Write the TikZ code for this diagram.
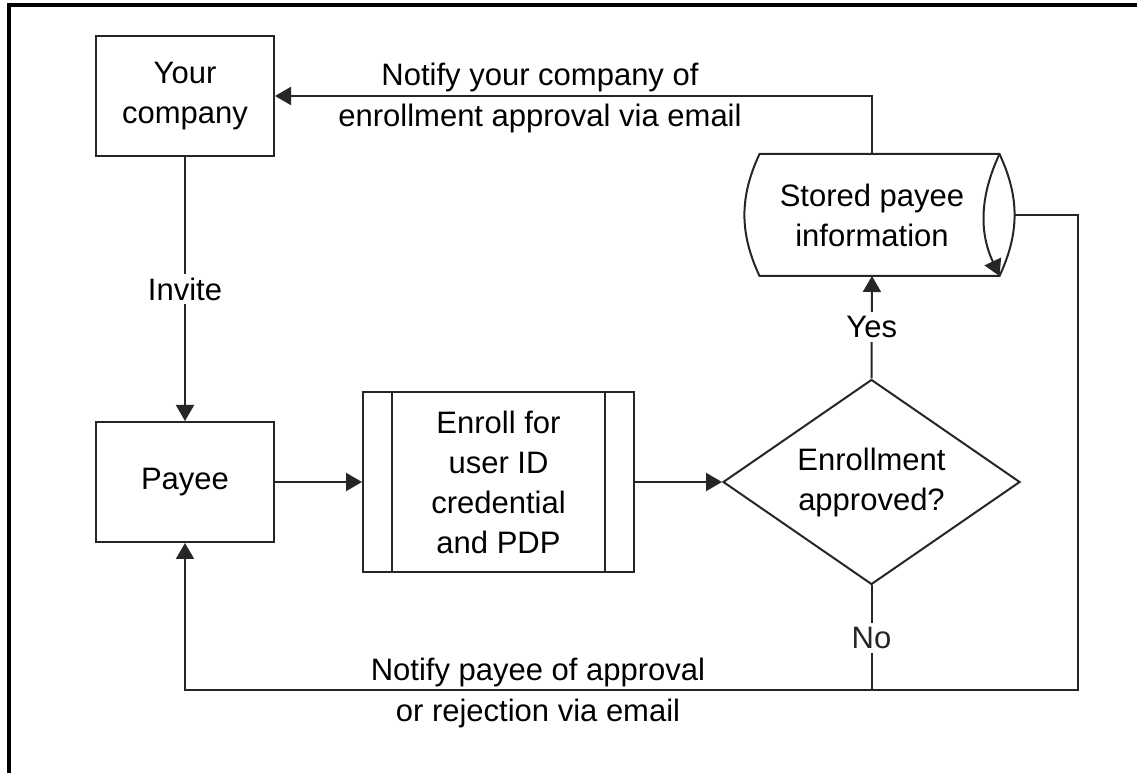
\documentclass[tikz,border=0pt]{standalone}
\usepackage{fontspec}
\setmainfont{Liberation Sans}
\usetikzlibrary{shapes.geometric,arrows.meta}

\begin{document}
\begin{tikzpicture}[x=1pt, y=1pt, line width=2pt,
    every node/.style={font=\fontsize{31}{40}\selectfont, align=center},
    box/.style={draw=black!85, rectangle, minimum width=178pt, minimum height=120pt},
    arr/.style={draw=black!85, -{Triangle[length=16pt,width=18pt]}}]
            \useasboundingbox (0,0) rectangle (1137,773);
            % frame
            \draw[line width=4pt] (9,0) -- (9,767.5) -- (1137,767.5);
            % boxes
            \node[box] (company) at (185,677) {Your\\company};
            \node[box] (payee) at (185,291) {Payee};
            \node[box, minimum width=271pt, minimum height=180pt] (enroll) at (498.5,291) {Enroll for\\user ID\\credential\\and PDP};
            \draw[black!85] ([xshift=30pt]enroll.north west) -- ([xshift=30pt]enroll.south west);
            \draw[black!85] ([xshift=-30pt]enroll.north east) -- ([xshift=-30pt]enroll.south east);
            \node[draw=black!85, diamond, aspect=1.45, inner sep=0pt, minimum width=297pt, minimum height=205pt] (approved) at (871.5,291) {Enrollment\\approved?};
            % stored data
            \node[minimum width=253pt, minimum height=120pt] (store) at (872,558) {Stored payee\\information};
            \draw[black!85] ([xshift=15pt]store.north west) to[bend right=25] ([xshift=15pt]store.south west)
                -- (store.south east) to[bend right=25] (store.north east) -- cycle;
            \draw[arr] (store.north east) to[bend right=25] (store.south east);
            \coordinate (botright) at (1078,83);
            % connectors
            \draw[arr] (company) -- node[fill=white, inner sep=4pt] {Invite} (payee);
            \draw[arr] (payee) -- (enroll);
            \draw[arr] (enroll) -- (approved);
            \draw[arr] (approved.north) -- node[fill=white, inner sep=4pt] {Yes} (store.south);
            \draw[arr] (store.north) |- (company);
            \draw[black!85] (approved.south) -- node[fill=white, inner sep=4pt] {No} (approved.south |- botright);
            \draw[arr] ([xshift=15pt]store.east) -| (botright) -| (payee.south);
            % labels
            \node (notecompany) at (540,675) {Notify your company of\\[1pt]enrollment approval via email};
            \node (notepayee) at (538,80) {Notify payee of approval\\[1pt]or rejection via email};
        \end{tikzpicture}
\end{document}
